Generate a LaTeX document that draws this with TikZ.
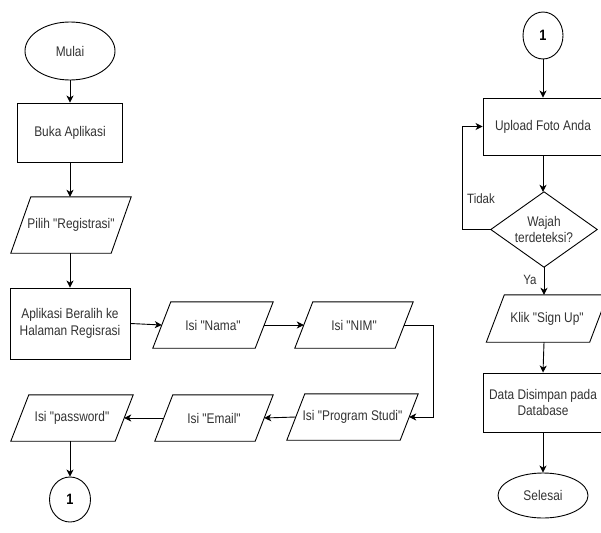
\documentclass[tikz,border=0pt]{standalone}
\usepackage{fontspec}
\newfontfamily\arialx[FakeStretch=0.85]{Liberation Sans}
\usetikzlibrary{shapes.geometric,arrows.meta,calc}
\begin{document}
\begin{tikzpicture}[x=1pt,y=-1pt,
  every node/.style={font=\arialx\fontsize{14}{16.5}\selectfont, text=black!80, align=center},
  line/.style={line width=0.9pt, draw=black},
  arr/.style={line, -{Stealth[length=7pt,width=7pt,inset=2pt]}},
  term/.style={ellipse, line, inner sep=0pt},
  conn/.style={ellipse, line, inner sep=0pt, text=black, font=\arialx\fontsize{15}{17}\selectfont\bfseries},
  proc/.style={rectangle, line, inner sep=0pt},
  io/.style={rectangle, draw=none, inner sep=0pt},
  dec/.style={rectangle, draw=none, inner sep=0pt},
  lbl/.style={font=\arialx\fontsize{13.5}{16}\selectfont}]
\useasboundingbox (0,0) rectangle (601,532);
\clip (0,0) rectangle (601,532);
\fill[white] (0,0) rectangle (601,532);

% left column
\node[term, minimum width=90pt, minimum height=58pt] (mulai) at (70,51) {Mulai};
\node[proc, minimum width=105pt, minimum height=59pt] (buka) at (70,132.5) {Buka Aplikasi};
\node[io, minimum width=100pt, minimum height=56pt] (pilih) at (71,225) {Pilih "Registrasi"};
\node[proc, minimum width=120pt, minimum height=71pt] (apl) at (70,323.5) {Aplikasi Beralih ke\\Halaman Regisrasi};
\node[io, minimum width=102pt, minimum height=46pt] (nama) at (213,325) {Isi "Nama"};
\node[io, minimum width=100pt, minimum height=46pt] (nim) at (354,325) {Isi "NIM"};
\node[io, minimum width=113pt, minimum height=46pt] (prog) at (352.5,417) {Isi "Program Studi"};
\node[io, minimum width=100pt, minimum height=46pt] (email) at (214,418) {Isi "Email"};
\node[io, minimum width=104pt, minimum height=46pt] (pass) at (72,418) {Isi "password"};
\node[conn, minimum width=41pt, minimum height=45pt] (c1) at (70,499.5) {1};

% right column
\node[conn, minimum width=40pt, minimum height=47pt] (c2) at (543,35.5) {1};
\node[proc, minimum width=120pt, minimum height=57pt] (upload) at (543,126.5) {Upload Foto Anda};
\node[dec, minimum width=106pt, minimum height=75pt] (wajah) at (544,229.5) {Wajah\\terdeteksi?};
\node[io, minimum width=103pt, minimum height=47pt] (klik) at (547,318.5) {Klik "Sign Up"};
\node[proc, minimum width=120pt, minimum height=59pt] (data) at (543,402.5) {Data Disimpan pada\\Database};
\node[term, minimum width=90pt, minimum height=45pt] (selesai) at (543,495.5) {Selesai};

% parallelogram outlines
\foreach \n/\s in {pilih/10, nama/9, nim/9, prog/9, email/9, pass/9, klik/9}{
  \draw[line] ([xshift=\s pt]\n.north west) -- ([xshift=\s pt]\n.north east)
    -- ([xshift=-\s pt]\n.south east) -- ([xshift=-\s pt]\n.south west) -- cycle;
}
% diamond outline
\draw[line] (wajah.north) -- (wajah.east) -- (wajah.south) -- (wajah.west) -- cycle;

% connectors left
\draw[arr] (mulai.south) -- (buka.north);
\draw[arr] (buka.south) -- (buka.south |- pilih.north);
\draw[arr] (buka.south |- pilih.south) -- (apl.north);
\draw[arr] (apl.east) -- (nama.west);
\draw[arr] (nama.east) -- (nim.west);
\draw[arr] (nim.east) -- ++(29,0) |- (prog.east);
\draw[arr] (prog.west) -- (email.east);
\draw[arr] (email.west) -- (pass.east);
\draw[arr] (pass.south -| c1.north) -- (c1.north);

% connectors right
\draw[arr] (c2.south) -- (upload.north);
\draw[arr] (upload.south) -- (upload.south |- wajah.north);
\draw[arr] (wajah.west) -- ++(-28,0) |- (upload.west);
\draw[arr] (wajah.south) -- (wajah.south |- klik.north);
\draw[arr] (wajah.south |- klik.south) -- (data.north);
\draw[arr] (data.south) -- (selesai.north);

% labels
\node[lbl] (tidak) at (481,199) {Tidak};
\node[lbl] (ya) at (530,280) {Ya};
\end{tikzpicture}
\end{document}
